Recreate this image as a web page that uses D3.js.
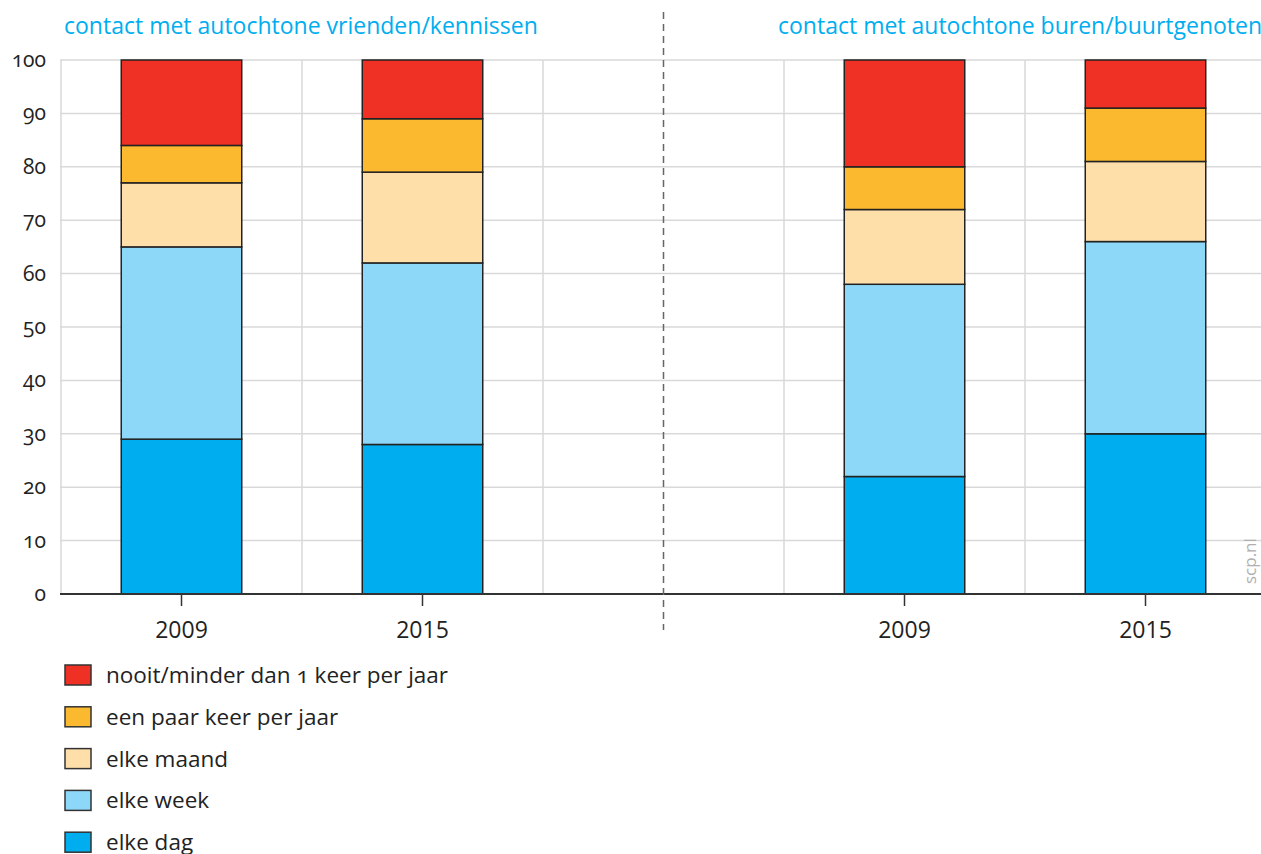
<!DOCTYPE html>
<html><head><meta charset="utf-8">
<script src="https://cdn.jsdelivr.net/npm/d3@7"></script>
<style>
html,body{margin:0;padding:0;background:#fff;overflow:hidden;}
svg text{font-family:"Open Sans","Noto Sans",sans-serif;}
</style></head>
<body><svg id="c" width="1261" height="854"></svg>
<script>
const slots = ["v2009","v2015","gap","b2009","b2015"];
const slotLabels = ["2009","2015","","2009","2015"];
const panelTitles = ["contact met autochtone vrienden/kennissen","contact met autochtone buren/buurtgenoten"];
const seriesNames = ["elke dag","elke week","elke maand","een paar keer per jaar","nooit/minder dan 1 keer per jaar"];
const seriesColors = ["#00aeef","#8dd8f8","#fedfaa","#fbb92f","#ee3124"];
const elkeDag   = [29, 28, null, 22, 30];
const elkeWeek  = [36, 34, null, 36, 36];
const elkeMaand = [12, 17, null, 14, 15];
const paarKeer  = [7, 10, null, 8, 10];
const nooit     = [16, 11, null, 20, 9];
const yTicks = [0,10,20,30,40,50,60,70,80,90,100];

const svg = d3.select("#c");
const x = d3.scaleBand().domain(slots).range([61,1266]).padding(0);
const y = d3.scaleLinear().domain([0,100]).range([594,60]);
const bw = x.bandwidth()*0.5;

// grid
const g = svg.append("g");
g.selectAll("line.h").data(yTicks.slice(1)).enter().append("line")
 .attr("x1",60).attr("x2",1261).attr("y1",d=>y(d)).attr("y2",d=>y(d))
 .attr("stroke","#d9d9d9").attr("stroke-width",1.5);
g.selectAll("line.v").data(slots).enter().append("line")
 .attr("x1",d=>x(d)).attr("x2",d=>x(d)).attr("y1",y(100)).attr("y2",y(0))
 .attr("stroke","#d9d9d9").attr("stroke-width",1.5);

// stacked bars
const rows = slots.map((s,i)=>({slot:s, v:[elkeDag[i],elkeWeek[i],elkeMaand[i],paarKeer[i],nooit[i]]})).filter(r=>r.v[0]!==null);
rows.forEach(r=>{
  let cum=0;
  r.v.forEach((val,k)=>{
    svg.append("rect")
      .attr("x",x(r.slot)+x.bandwidth()/2-bw/2).attr("width",bw)
      .attr("y",y(cum+val)).attr("height",y(cum)-y(cum+val))
      .attr("fill",seriesColors[k]).attr("stroke","#222").attr("stroke-width",1.5);
    cum+=val;
  });
});

// baseline
svg.append("line").attr("x1",60).attr("x2",1261).attr("y1",y(0)).attr("y2",y(0)).attr("stroke","#333").attr("stroke-width",1.8);
// x ticks
slots.forEach((s,i)=>{
  if(!slotLabels[i]) return;
  const cx = x(s)+x.bandwidth()/2;
  svg.append("line").attr("x1",cx).attr("x2",cx).attr("y1",y(0)).attr("y2",y(0)+12).attr("stroke","#333").attr("stroke-width",1.5);
  svg.append("text").attr("x",cx).attr("y",638).attr("text-anchor","middle").attr("font-size",23).attr("fill","#222").text(slotLabels[i]);
});
// y labels
svg.selectAll("text.y").data(yTicks).enter().append("text")
 .attr("x",46).attr("y",d=>y(d)+7).attr("text-anchor","end").attr("font-size",21).attr("fill","#222")
 .style("font-variant-numeric","oldstyle-nums").text(d=>d);

// separator
const sepX = x("gap")+x.bandwidth()/2;
svg.append("line").attr("x1",sepX).attr("x2",sepX).attr("y1",12).attr("y2",630)
 .attr("stroke","#666").attr("stroke-width",1.5).attr("stroke-dasharray","7,5");

// titles
svg.append("text").attr("x",64).attr("y",34).attr("font-size",23).attr("fill","#00aeef").text(panelTitles[0]);
svg.append("text").attr("x",778).attr("y",34).attr("font-size",23).attr("fill","#00aeef").text(panelTitles[1]);

// watermark
svg.append("text").attr("transform","translate(1256,584) rotate(-90)").attr("font-size",17).attr("fill","#b0b0b0").text("scp.nl");

// legend
const legOrder = [4,3,2,1,0];
legOrder.forEach((k,i)=>{
  const cy = 675 + i*41.8;
  svg.append("rect").attr("x",65).attr("y",cy-10).attr("width",26).attr("height",20)
    .attr("fill",seriesColors[k]).attr("stroke","#333").attr("stroke-width",1.5);
  svg.append("text").attr("x",106).attr("y",cy+8).attr("font-size",22.5).attr("fill","#222")
    .style("font-variant-numeric","oldstyle-nums").text(seriesNames[k]);
});
</script></body></html>
